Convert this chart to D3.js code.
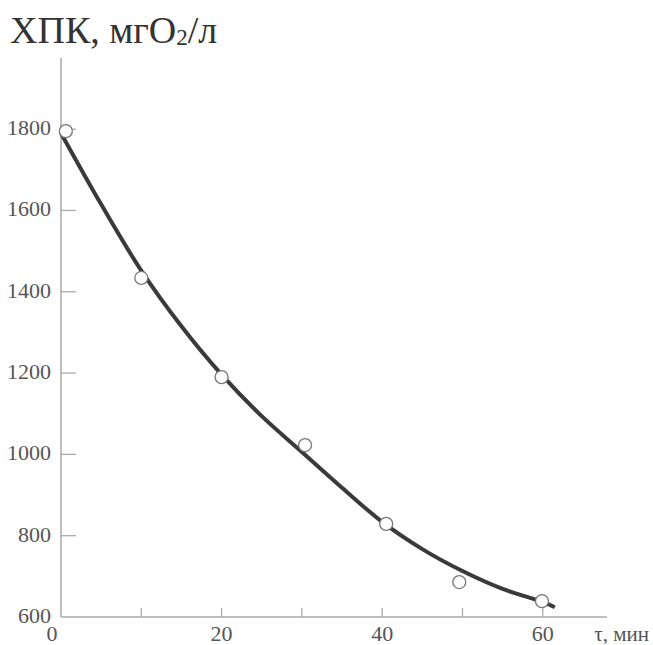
<!DOCTYPE html>
<meta charset="utf-8">
<script src="https://d3js.org/d3.v7.min.js"></script>
<style>
body { margin: 0; background: #fff; }
</style>
<body>
</body>
<script>

// measured points (t, min ; COD, mgO2/l)
var pointT = [0.6, 10, 20, 30.4, 40.5, 49.6, 59.9];
var pointV = [1795, 1434, 1190, 1023, 829, 686, 639];

// fitted curve
var curveT = [0, 5, 10, 15, 20, 25, 30, 35, 40, 45, 50, 55, 60, 61.5];
var curveV = [1790, 1615, 1452, 1315, 1196, 1094, 1006, 918, 834, 767, 713, 669, 637, 624];

var xTicks = [0, 10, 20, 30, 40, 50, 60];
var xLabels = [0, 20, 40, 60];
var yTicks = [600, 800, 1000, 1200, 1400, 1600, 1800];

var width = 653, height = 645;
var serif = "'Liberation Serif', 'Times New Roman', 'DejaVu Serif', serif";

var svg = d3.select("body").append("svg")
  .attr("width", width)
  .attr("height", height)
  .style("font-family", serif);

var xScale = d3.scaleLinear()
  .domain([0, 68])
  .range([61, 607]);

var yScale = d3.scaleLinear()
  .domain([600, 1975])
  .range([617, 58]);

// axes lines
svg.append("line")
  .attr("x1", xScale(0)).attr("x2", xScale(0))
  .attr("y1", yScale(600)).attr("y2", yScale(1975))
  .attr("stroke", "#aaa").attr("stroke-width", 1.5);

svg.append("line")
  .attr("x1", xScale(0)).attr("x2", xScale(68))
  .attr("y1", yScale(600)).attr("y2", yScale(600))
  .attr("stroke", "#aaa").attr("stroke-width", 1.5);

// inward ticks
svg.selectAll(".ytick")
  .data(yTicks.slice(1)).enter().append("line")
  .attr("class", "ytick")
  .attr("x1", xScale(0)).attr("x2", xScale(0) + 15)
  .attr("y1", function(d) { return yScale(d); })
  .attr("y2", function(d) { return yScale(d); })
  .attr("stroke", "#aaa").attr("stroke-width", 1.3);

svg.selectAll(".xtick")
  .data(xTicks.slice(1)).enter().append("line")
  .attr("class", "xtick")
  .attr("x1", function(d) { return xScale(d); })
  .attr("x2", function(d) { return xScale(d); })
  .attr("y1", yScale(600)).attr("y2", yScale(600) - 9)
  .attr("stroke", "#aaa").attr("stroke-width", 1.3);

// tick labels
svg.selectAll(".ylab")
  .data(yTicks).enter().append("text")
  .attr("class", "ylab")
  .attr("x", xScale(0) - 10)
  .attr("y", function(d) { return yScale(d) + 6; })
  .attr("text-anchor", "end")
  .attr("font-family", serif)
  .attr("font-size", 22)
  .attr("fill", "#555")
  .text(function(d) { return d; });

svg.selectAll(".xlab")
  .data(xLabels).enter().append("text")
  .attr("class", "xlab")
  .attr("x", function(d) { return xScale(d) - (d === 0 ? 9 : 0); })
  .attr("y", 641)
  .attr("text-anchor", "middle")
  .attr("font-family", serif)
  .attr("font-size", 22)
  .attr("fill", "#555")
  .text(function(d) { return d; });

svg.append("text")
  .attr("x", 649)
  .attr("y", 641)
  .attr("text-anchor", "end")
  .attr("font-family", serif)
  .attr("font-size", 21)
  .attr("fill", "#555")
  .text("τ, мин");

// title
var title = svg.append("text")
  .attr("x", 10)
  .attr("y", 43)
  .attr("font-family", serif)
  .attr("font-size", 38)
  .attr("fill", "#333");
title.append("tspan").text("ХПК, мгО");
title.append("tspan").attr("font-size", 23).attr("dy", 2).text("2");
title.append("tspan").attr("dy", -2).text("/л");

// curve
var curveData = curveT.map(function(t, i) { return {t: t, v: curveV[i]}; });

var line = d3.line()
  .x(function(d) { return xScale(d.t); })
  .y(function(d) { return yScale(d.v); })
  .curve(d3.curveCatmullRom);

svg.append("path")
  .datum(curveData)
  .attr("d", line)
  .attr("fill", "none")
  .attr("stroke", "#3a3a3a")
  .attr("stroke-width", 4);

// points
var pointData = pointT.map(function(t, i) { return {t: t, v: pointV[i]}; });

svg.selectAll(".pt")
  .data(pointData).enter().append("circle")
  .attr("class", "pt")
  .attr("cx", function(d) { return xScale(d.t); })
  .attr("cy", function(d) { return yScale(d.v); })
  .attr("r", 6.5)
  .attr("fill", "#fff")
  .attr("stroke", "#777")
  .attr("stroke-width", 1.3);

</script>
